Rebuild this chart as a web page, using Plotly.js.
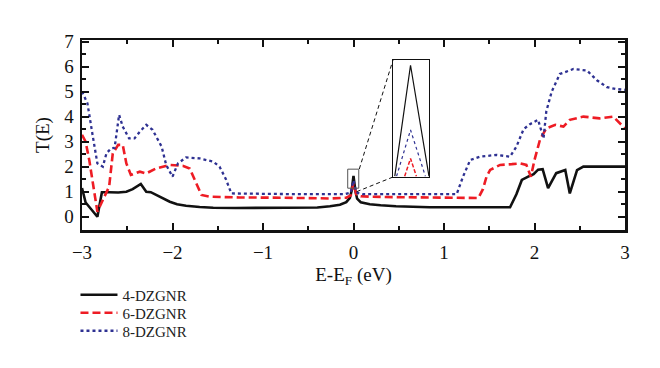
<!DOCTYPE html>
<html>
<head>
<meta charset="utf-8">
<script src="https://cdn.plot.ly/plotly-3.0.1.min.js"></script>
<style>html,body{margin:0;padding:0;background:#fff;}#chart{width:660px;height:368px;}</style>
</head>
<body>
<div id="chart"></div>
<script>
// 4-DZGNR
const E4 = [-3, -2.96, -2.83, -2.78, -2.70, -2.60, -2.51, -2.44, -2.35, -2.29, -2.24, -2.15, -2.03, -1.95, -1.85, -1.70, -1.55, -1.30, -1.0, -0.7, -0.4, -0.26, -0.15, -0.08, -0.04, -0.02, 0, 0.02, 0.04, 0.08, 0.18, 0.3, 0.47, 0.84, 1.2, 1.5, 1.73, 1.80, 1.86, 1.93, 1.99, 2.04, 2.09, 2.15, 2.24, 2.34, 2.39, 2.47, 2.54, 2.7, 3.0];
const T4 = [1.15, 0.57, 0.0, 0.98, 0.98, 0.97, 1.0, 1.1, 1.31, 1.0, 0.98, 0.82, 0.6, 0.5, 0.44, 0.39, 0.36, 0.35, 0.35, 0.35, 0.37, 0.42, 0.48, 0.58, 0.75, 1.05, 1.63, 1.05, 0.72, 0.58, 0.5, 0.46, 0.42, 0.38, 0.37, 0.37, 0.38, 0.9, 1.47, 1.6, 1.7, 1.88, 1.9, 1.14, 1.74, 1.87, 0.93, 1.86, 2.0, 2.0, 2.0];
// 6-DZGNR
const E6 = [-3, -2.96, -2.92, -2.86, -2.83, -2.77, -2.70, -2.66, -2.60, -2.55, -2.51, -2.46, -2.36, -2.29, -2.18, -2.03, -1.88, -1.81, -1.74, -1.68, -1.59, -1.26, -0.8, -0.26, -0.08, -0.03, 0, 0.03, 0.08, 0.18, 0.5, 1.0, 1.38, 1.43, 1.47, 1.51, 1.62, 1.75, 1.84, 1.91, 1.96, 2.0, 2.06, 2.13, 2.23, 2.32, 2.39, 2.54, 2.72, 2.87, 2.95, 3.0];
const T6 = [3.27, 3.0, 2.27, 0.93, 0.2, 0.67, 1.2, 2.53, 2.87, 2.87, 2.13, 1.67, 1.8, 1.73, 1.93, 2.07, 2.03, 1.93, 1.33, 0.87, 0.8, 0.77, 0.76, 0.73, 0.76, 0.85, 1.35, 0.9, 0.82, 0.8, 0.78, 0.77, 0.75, 1.1, 1.6, 1.87, 2.07, 2.1, 2.13, 2.07, 1.6, 2.27, 3.07, 3.53, 3.67, 3.6, 3.87, 4.0, 3.93, 4.0, 3.73, 3.53];
// 8-DZGNR
const E8 = [-3, -2.94, -2.88, -2.83, -2.77, -2.73, -2.68, -2.64, -2.59, -2.55, -2.48, -2.42, -2.36, -2.29, -2.22, -2.12, -2.07, -2.0, -1.94, -1.85, -1.70, -1.55, -1.48, -1.41, -1.35, -1.2, -0.6, -0.1, -0.03, 0, 0.03, 0.1, 0.6, 1.14, 1.21, 1.29, 1.4, 1.58, 1.73, 1.80, 1.88, 1.95, 2.04, 2.1, 2.13, 2.19, 2.28, 2.43, 2.58, 2.69, 2.8, 2.9, 3.0];
const T8 = [5.0, 4.53, 3.2, 2.13, 2.0, 2.53, 2.73, 2.75, 4.07, 3.6, 3.13, 3.13, 3.4, 3.67, 3.47, 2.8, 2.07, 1.6, 2.13, 2.37, 2.33, 2.2, 2.0, 1.5, 0.93, 0.92, 0.9, 0.9, 0.97, 1.45, 0.97, 0.9, 0.9, 0.9, 1.6, 2.27, 2.4, 2.47, 2.4, 2.8, 3.5, 3.7, 3.87, 3.13, 4.2, 5.0, 5.7, 5.9, 5.84, 5.45, 5.18, 5.1, 5.07];
// inset (zoom on the peak at E_F)
const insE4 = [-0.0175, 0, 0.0205];
const insT4 = [1.2, 1.62, 1.2];
const insE8 = [-0.0155, 0, 0.0165];
const insT8 = [1.2, 1.375, 1.2];
const insE6 = [-0.0065, 0, 0.0065];
const insT6 = [1.2, 1.267, 1.2];
const names = ['4-DZGNR', '6-DZGNR', '8-DZGNR'];
const xTicks = [-3, -2, -1, 0, 1, 2, 3];
const yTicks = [0, 1, 2, 3, 4, 5, 6, 7];

const black = '#111111', red = '#ee1c24', blue = '#2e3192';
const serif = '"Liberation Serif", "Times New Roman", serif';

const traces = [
  {x: E4, y: T4, name: names[0], legend: 'legend', mode: 'lines', line: {color: black, width: 2.6}},
  {x: E6, y: T6, name: names[1], legend: 'legend2', mode: 'lines', line: {color: red, width: 2.6, dash: '8px,4px'}},
  {x: E8, y: T8, name: names[2], legend: 'legend3', mode: 'lines', line: {color: blue, width: 2.3, dash: 'dot'}},
  {x: insE4, y: insT4, xaxis: 'x2', yaxis: 'y2', mode: 'lines', showlegend: false, line: {color: black, width: 1.2}},
  {x: insE8, y: insT8, xaxis: 'x2', yaxis: 'y2', mode: 'lines', showlegend: false, line: {color: blue, width: 1.2, dash: 'dot'}},
  {x: insE6, y: insT6, xaxis: 'x2', yaxis: 'y2', mode: 'lines', showlegend: false, line: {color: red, width: 1.5, dash: '4px,2px'}}
];

const legendBase = {xanchor: 'left', yanchor: 'middle', font: {size: 15, family: serif, color: '#222'}, bgcolor: 'rgba(0,0,0,0)', itemwidth: 37};
const legY = py => (230 - py) / 190;

const layout = {
  width: 660, height: 368,
  margin: {l: 82, r: 35, t: 40, b: 138},
  paper_bgcolor: '#fff', plot_bgcolor: '#fff',
  font: {family: serif, color: '#111', size: 19},
  xaxis: {
    range: [-3, 3], tickvals: xTicks, ticktext: xTicks.map(v => v < 0 ? '\u2212' + Math.abs(v) : String(v)),
    ticks: 'inside', ticklen: 7, tickwidth: 2, tickcolor: black,
    showline: true, linewidth: 2.5, linecolor: black, mirror: 'ticks',
    showgrid: false, zeroline: false, ticklabelstandoff: 4,
    minor: {dtick: 0.5, ticks: 'inside', ticklen: 4, tickwidth: 2, tickcolor: black, showgrid: false},
    title: {text: 'E-E<sub>F</sub> (eV)', font: {size: 19}, standoff: 6},
    tickfont: {size: 19}
  },
  yaxis: {
    range: [-0.53, 7.06], tickvals: yTicks,
    ticks: 'inside', ticklen: 7, tickwidth: 2, tickcolor: black,
    showline: true, linewidth: 2.5, linecolor: black, mirror: 'ticks',
    showgrid: false, zeroline: false, ticklabelstandoff: 2,
    minor: {dtick: 0.5, ticks: 'inside', ticklen: 4, tickwidth: 2, tickcolor: black, showgrid: false},
    title: {text: 'T(E)', font: {size: 19}, standoff: 10},
    tickfont: {size: 19}
  },
  xaxis2: {domain: [0.5727, 0.639], anchor: 'y2', range: [-0.0195, 0.0205], showticklabels: false, ticks: '',
    showline: true, mirror: true, linewidth: 1, linecolor: black, showgrid: false, zeroline: false},
  yaxis2: {domain: [0.279, 0.895], anchor: 'x2', range: [1.197, 1.64], showticklabels: false, ticks: '',
    showline: true, mirror: true, linewidth: 1, linecolor: black, showgrid: false, zeroline: false},
  shapes: [
    {type: 'rect', xref: 'x', yref: 'y', x0: -0.064, x1: 0.058, y0: 1.14, y1: 1.9, line: {color: '#555', width: 1}},
    {type: 'line', xref: 'paper', yref: 'paper', x0: (359.3-82)/543, y0: (230-169)/190, x1: (393-82)/543, y1: (230-60)/190, line: {color: black, width: 1, dash: '4px,3px'}},
    {type: 'line', xref: 'paper', yref: 'paper', x0: (356.7-82)/543, y0: (230-191.7)/190, x1: (393-82)/543, y1: (230-177)/190, line: {color: black, width: 1, dash: '4px,3px'}}
  ],
  showlegend: true,
  legend: Object.assign({}, legendBase, {x: -0.012, y: legY(295)}),
  legend2: Object.assign({}, legendBase, {x: -0.012, y: legY(313)}),
  legend3: Object.assign({}, legendBase, {x: -0.012, y: legY(331)})
};

Plotly.newPlot('chart', traces, layout, {displayModeBar: false, staticPlot: true});
</script>
</body>
</html>
